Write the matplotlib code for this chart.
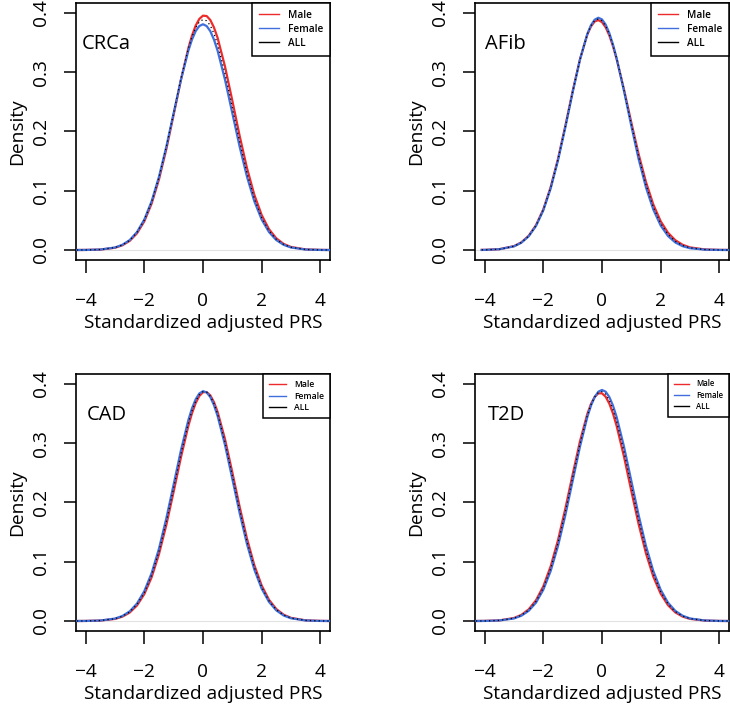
import matplotlib

matplotlib.use("Agg")
import matplotlib.pyplot as plt
from matplotlib.lines import Line2D

plt.rcParams['font.family'] = ['Open Sans', 'DejaVu Sans']

# density curves (shared x grid)
x_grid = [-4.3, -4.0, -3.5, -3.0, -2.75, -2.5, -2.25, -2.0, -1.75, -1.5, -1.25, -1.0,
          -0.75, -0.5, -0.375, -0.25, -0.125, 0.0, 0.125, 0.25, 0.375, 0.5, 0.75, 1.0,
          1.25, 1.5, 1.75, 2.0, 2.25, 2.5, 2.75, 3.0, 3.5, 4.0, 4.3]
x_grid_afib = [-4.1] + x_grid[1:]

crca_male = [0.0000, 0.0001, 0.0007, 0.0038, 0.0079, 0.0153, 0.0281, 0.0484, 0.0784, 0.1192, 0.1701, 0.2283,
             0.2875, 0.3405, 0.3618, 0.3786, 0.3900, 0.3955, 0.3949, 0.3882, 0.3756, 0.3579, 0.3099, 0.2523,
             0.1928, 0.1384, 0.0933, 0.0592, 0.0352, 0.0197, 0.0103, 0.0051, 0.0010, 0.0002, 0.0000]
crca_female = [0.0000, 0.0001, 0.0008, 0.0042, 0.0087, 0.0167, 0.0303, 0.0515, 0.0824, 0.1237, 0.1744, 0.2311,
               0.2876, 0.3362, 0.3551, 0.3693, 0.3780, 0.3810, 0.3780, 0.3693, 0.3551, 0.3362, 0.2876, 0.2311,
               0.1744, 0.1237, 0.0824, 0.0515, 0.0303, 0.0167, 0.0087, 0.0042, 0.0008, 0.0001, 0.0000]
crca_all = [0.0000, 0.0001, 0.0008, 0.0041, 0.0084, 0.0163, 0.0296, 0.0506, 0.0812, 0.1225, 0.1737, 0.2312,
            0.2892, 0.3398, 0.3598, 0.3751, 0.3850, 0.3889, 0.3869, 0.3788, 0.3652, 0.3467, 0.2981, 0.2407,
            0.1826, 0.1301, 0.0871, 0.0548, 0.0324, 0.0180, 0.0094, 0.0046, 0.0009, 0.0001, 0.0000]

afib_male = [0.0002, 0.0002, 0.0014, 0.0065, 0.0129, 0.0240, 0.0419, 0.0688, 0.1062, 0.1539, 0.2096, 0.2681,
             0.3222, 0.3637, 0.3774, 0.3857, 0.3880, 0.3846, 0.3758, 0.3621, 0.3440, 0.3222, 0.2709, 0.2152,
             0.1616, 0.1146, 0.0768, 0.0486, 0.0291, 0.0165, 0.0088, 0.0044, 0.0010, 0.0002, 0.0001]
afib_female = [0.0001, 0.0002, 0.0013, 0.0062, 0.0123, 0.0231, 0.0406, 0.0670, 0.1039, 0.1513, 0.2070, 0.2662,
               0.3214, 0.3647, 0.3795, 0.3887, 0.3920, 0.3892, 0.3804, 0.3661, 0.3468, 0.3234, 0.2685, 0.2094,
               0.1534, 0.1055, 0.0682, 0.0414, 0.0236, 0.0127, 0.0064, 0.0030, 0.0006, 0.0001, 0.0000]
afib_all = [0.0002, 0.0002, 0.0013, 0.0064, 0.0126, 0.0236, 0.0413, 0.0679, 0.1051, 0.1526, 0.2083, 0.2672,
            0.3218, 0.3642, 0.3785, 0.3872, 0.3900, 0.3869, 0.3781, 0.3641, 0.3454, 0.3228, 0.2697, 0.2123,
            0.1575, 0.1100, 0.0725, 0.0450, 0.0264, 0.0146, 0.0076, 0.0037, 0.0008, 0.0001, 0.0000]

cad_male = [0.0000, 0.0001, 0.0007, 0.0035, 0.0073, 0.0142, 0.0262, 0.0454, 0.0739, 0.1129, 0.1620, 0.2183,
            0.2765, 0.3290, 0.3505, 0.3677, 0.3797, 0.3861, 0.3864, 0.3808, 0.3694, 0.3528, 0.3071, 0.2511,
            0.1929, 0.1392, 0.0944, 0.0601, 0.0359, 0.0202, 0.0107, 0.0053, 0.0011, 0.0002, 0.0000]
cad_female = [0.0000, 0.0001, 0.0008, 0.0041, 0.0084, 0.0162, 0.0295, 0.0504, 0.0810, 0.1222, 0.1732, 0.2306,
              0.2884, 0.3389, 0.3589, 0.3741, 0.3840, 0.3879, 0.3859, 0.3779, 0.3643, 0.3458, 0.2973, 0.2401,
              0.1822, 0.1298, 0.0869, 0.0547, 0.0323, 0.0179, 0.0093, 0.0046, 0.0009, 0.0001, 0.0000]
cad_all = [0.0000, 0.0001, 0.0008, 0.0038, 0.0079, 0.0152, 0.0279, 0.0479, 0.0775, 0.1176, 0.1676, 0.2245,
           0.2825, 0.3340, 0.3547, 0.3709, 0.3819, 0.3870, 0.3862, 0.3794, 0.3669, 0.3493, 0.3022, 0.2456,
           0.1876, 0.1345, 0.0907, 0.0574, 0.0341, 0.0191, 0.0100, 0.0050, 0.0010, 0.0002, 0.0000]

t2d_male = [0.0000, 0.0002, 0.0010, 0.0051, 0.0103, 0.0196, 0.0350, 0.0586, 0.0923, 0.1365, 0.1897, 0.2475,
            0.3035, 0.3495, 0.3664, 0.3781, 0.3842, 0.3843, 0.3785, 0.3669, 0.3502, 0.3291, 0.2774, 0.2195,
            0.1632, 0.1140, 0.0748, 0.0461, 0.0267, 0.0145, 0.0074, 0.0036, 0.0007, 0.0001, 0.0000]
t2d_female = [0.0000, 0.0001, 0.0009, 0.0043, 0.0089, 0.0171, 0.0310, 0.0528, 0.0844, 0.1266, 0.1785, 0.2365,
              0.2944, 0.3442, 0.3635, 0.3780, 0.3870, 0.3900, 0.3870, 0.3780, 0.3635, 0.3442, 0.2944, 0.2365,
              0.1785, 0.1266, 0.0844, 0.0528, 0.0310, 0.0171, 0.0089, 0.0043, 0.0009, 0.0001, 0.0000]
t2d_all = [0.0000, 0.0001, 0.0010, 0.0047, 0.0096, 0.0184, 0.0330, 0.0557, 0.0884, 0.1316, 0.1841, 0.2420,
           0.2990, 0.3469, 0.3650, 0.3781, 0.3856, 0.3872, 0.3828, 0.3725, 0.3569, 0.3367, 0.2859, 0.2280,
           0.1709, 0.1203, 0.0796, 0.0495, 0.0289, 0.0158, 0.0082, 0.0040, 0.0008, 0.0001, 0.0000]

traits = ["CRCa", "AFib", "CAD", "T2D"]
x_values = [x_grid, x_grid_afib, x_grid, x_grid]
male_curves = [crca_male, afib_male, cad_male, t2d_male]
female_curves = [crca_female, afib_female, cad_female, t2d_female]
all_curves = [crca_all, afib_all, cad_all, t2d_all]
legend_labels = ["Male", "Female", "ALL"]
x_ticks = [-4, -2, 0, 2, 4]
y_ticks = [0.0, 0.1, 0.2, 0.3, 0.4]

RED = "#ee2b2b"
BLUE = "#3f6fdc"

# axes boxes in figure fractions (left, bottom, width, height)
boxes = [
    [0.1041, 0.6343, 0.3479, 0.3615],
    [0.6507, 0.6343, 0.3479, 0.3615],
    [0.1041, 0.1125, 0.3479, 0.3615],
    [0.6507, 0.1125, 0.3479, 0.3615],
]
label_x = [-4.15, -3.98, -3.95, -3.9]
legend_fs = [7.2, 7.2, 6.2, 5.6]

fig = plt.figure(figsize=(7.3, 7.11), dpi=100)

for i, name in enumerate(traits):
    ax = fig.add_axes(boxes[i])
    ax.axhline(0, color="#e2e2e2", lw=0.8, zorder=1)
    ax.plot(x_values[i], male_curves[i], color=RED, lw=1.6, zorder=2)
    ax.plot(x_values[i], female_curves[i], color=BLUE, lw=1.6, zorder=3)
    ax.plot(x_values[i], all_curves[i], color="black", lw=0.9, ls=(0, (1, 2.5)), zorder=4)

    ax.set_xlim(-4.33, 4.33)
    ax.set_ylim(-0.0169, 0.4169)
    ax.set_xticks(x_ticks)
    ax.set_yticks(y_ticks)
    ax.set_xticklabels([str(t).replace("-", "\u2212") for t in x_ticks])
    ax.set_yticklabels([f"{t:.1f}" for t in y_ticks])
    ax.tick_params(direction="out", length=9, width=1.1, labelsize=13.8)
    ax.tick_params(axis="x", pad=14)
    ax.tick_params(axis="y", pad=10, labelrotation=90)
    for lab in ax.get_yticklabels():
        lab.set_va("center")
    for sp in ax.spines.values():
        sp.set_linewidth(1.2)

    ax.set_xlabel("Standardized adjusted PRS", fontsize=13.8, labelpad=3)
    ax.set_ylabel("Density", fontsize=13.8, labelpad=4)
    ax.text(label_x[i], 0.348, name, fontsize=14.5, ha="left", va="center")

    handles = [Line2D([], [], color=RED, lw=1.0),
               Line2D([], [], color=BLUE, lw=1.0),
               Line2D([], [], color="black", lw=1.0)]
    leg = ax.legend(handles, legend_labels, loc="upper right", bbox_to_anchor=(1, 1),
                    borderaxespad=0, fancybox=False, framealpha=1, edgecolor="black",
                    handlelength=2.0, handletextpad=0.9,
                    borderpad=0.7, labelspacing=0.3, prop={"weight": "semibold", "size": legend_fs[i]})
    leg.get_frame().set_linewidth(1.1)

fig.savefig("out.png", dpi=100)
plt.close(fig)
